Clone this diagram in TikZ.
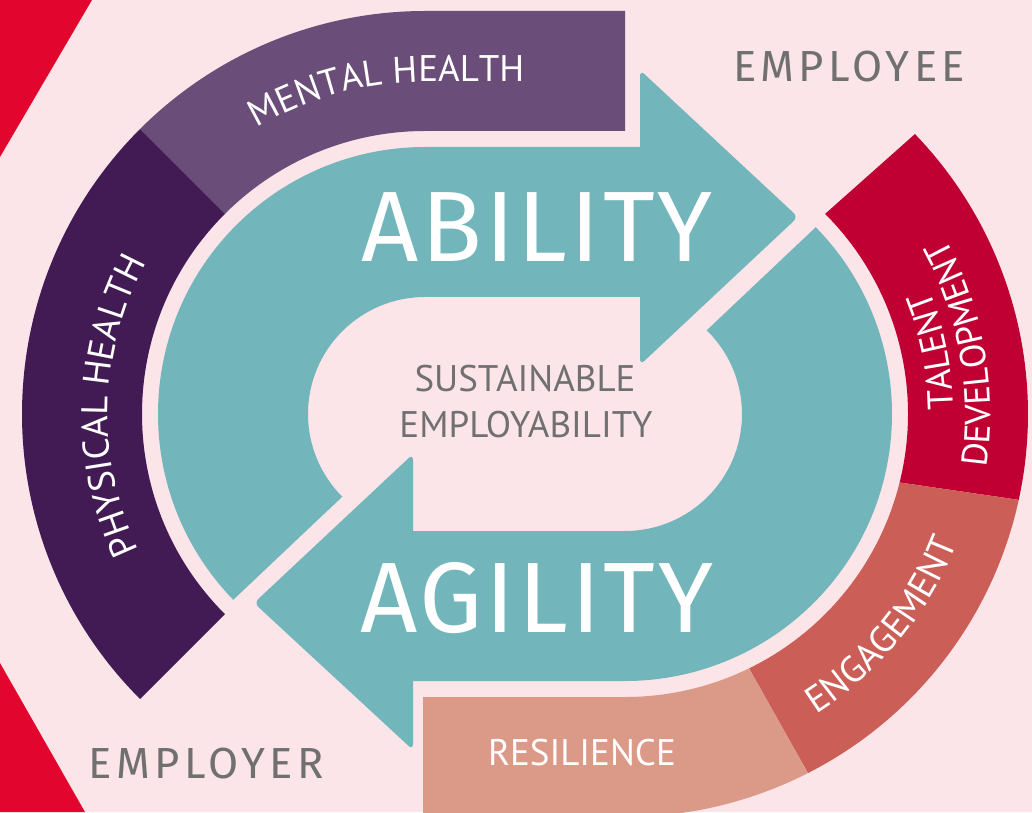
\documentclass[tikz,border=0pt]{standalone}
\usepackage{fontspec}
\usetikzlibrary{calc,decorations.text}
\newfontfamily\ptfont{PT Sans}
\newfontfamily\firabig[LetterSpace=3]{Fira Sans}
\newfontfamily\firawide[LetterSpace=10]{Fira Sans}
\definecolor{bgpink}{RGB}{251,229,233}
\definecolor{cornerred}{RGB}{226,6,46}
\definecolor{tealc}{RGB}{114,181,187}
\definecolor{mentalc}{RGB}{106,77,121}
\definecolor{physc}{RGB}{66,27,85}
\definecolor{talentc}{RGB}{192,0,51}
\definecolor{engagec}{RGB}{203,95,87}
\definecolor{resilc}{RGB}{219,153,135}
\definecolor{graytext}{RGB}{112,112,112}
\newcommand\bandfont{\fontsize{37}{40}\selectfont\ptfont\color{white}}
\newcommand\talentfont{\fontsize{36}{39}\selectfont\ptfont\color{white}}
\begin{document}
\begin{tikzpicture}[x=1pt,y=1pt,
  bigword/.style={font=\fontsize{100}{110}\selectfont\firabig, text=white, inner sep=0pt},
  sideword/.style={font=\fontsize{43.5}{48}\selectfont\firawide, text=graytext, inner sep=0pt},
  centreword/.style={font=\fontsize{37}{40}\selectfont\ptfont, text=graytext, inner sep=0pt},
  bandword/.style={font=\bandfont, inner sep=0pt},
  curvedc/.style={decorate, decoration={text along path, text align=center, text={#1}}},
  curvedl/.style={decorate, decoration={text along path, text align=left, text={#1}}}
]
\useasboundingbox (0,0) rectangle (1032,812);
\clip (0,0) rectangle (1032,812);
\fill[bgpink] (0,0) rectangle (1032,812);
% red corners
\fill[cornerred] (0,812) -- (92,812) -- (0,655) -- cycle;
\fill[cornerred] (0,149) -- (85,0) -- (0,0) -- cycle;
\coordinate (L) at (425,398);
\coordinate (Rc) at (625,398);
% outer bands
\fill[mentalc] (625,801) -- (425,801) arc[start angle=90,end angle=135,radius=403]
  -- ($(L)+(135:283)$) arc[start angle=135,end angle=90,radius=283] -- (625,681) -- cycle;
\fill[physc] ($(L)+(135:403)$) arc[start angle=135,end angle=225,radius=403]
  -- ($(L)+(225:283)$) arc[start angle=225,end angle=135,radius=283] -- cycle;
\fill[talentc] ($(Rc)+(44:403)$) arc[start angle=44,end angle=-12.3,radius=403]
  -- ($(Rc)+(-14:283)$) arc[start angle=-14,end angle=45,radius=283] -- cycle;
\fill[engagec] ($(Rc)+(-12.3:403)$) arc[start angle=-12.3,end angle=-63,radius=403]
  -- ($(Rc)+(-64:283)$) arc[start angle=-64,end angle=-14,radius=283] -- cycle;
\fill[resilc] ($(Rc)+(-63:403)$) arc[start angle=-63,end angle=-90,radius=403]
  -- (423,-5) -- (423,115) -- (625,115) arc[start angle=-90,end angle=-64,radius=283] -- cycle;
% teal arrows
\fill[tealc] ($(L)+(224.1:267)$) arc[start angle=224.1,end angle=90,radius=267]
  -- (640,665) [rounded corners=6pt] -- (640,742) -- (798,595) -- (640,447) [sharp corners]
  -- (640,515) -- (425,515) arc[start angle=90,end angle=225,radius=117] -- cycle;
\fill[tealc] ($(Rc)+(44.4:267)$) arc[start angle=44.4,end angle=-90,radius=267]
  -- (413,131) [rounded corners=6pt] -- (413,62) -- (254,209) -- (413,358) [sharp corners]
  -- (413,281) -- (625,281) arc[start angle=-90,end angle=45.7,radius=117] -- cycle;
% words
\node[bigword] (ability) at (537,585) {ABILITY};
\node[bigword] (agility) at (537,214) {AGILITY};
\node[sideword] (employee) at (849,745) {EMPLOYEE};
\node[sideword] (employer) at (206,48) {EMPLOYER};
\node[centreword] (sust) at (525,433) {SUSTAINABLE};
\node[centreword] (empl) at (526,387) {EMPLOYABILITY};
\node[bandword] (resil) at (582,59) {RESILIENCE};
% curved labels
\path[curvedl={|\bandfont|MENTAL HEALTH}] ($(L)+(120.5:332)$) arc[start angle=120.5,end angle=90,radius=332] -- (700,730);
\path[curvedc={|\bandfont|PHYSICAL HEALTH}] ($(L)+(208.5:317)$) arc[start angle=208.5,end angle=148.5,radius=317];
\path[curvedc={|\talentfont|TALENT}] ($(Rc)+(-18.5:328.5)$) arc[start angle=-18.5,end angle=41.5,radius=328.5];
\path[curvedc={|\talentfont|DEVELOPMENT}] ($(Rc)+(-24.8:365.5)$) arc[start angle=-24.8,end angle=45.2,radius=365.5];
\path[curvedc={|\bandfont|ENGAGEMENT}] ($(Rc)+(-69.3:356)$) arc[start angle=-69.3,end angle=-9.3,radius=356];
\end{tikzpicture}
\end{document}
